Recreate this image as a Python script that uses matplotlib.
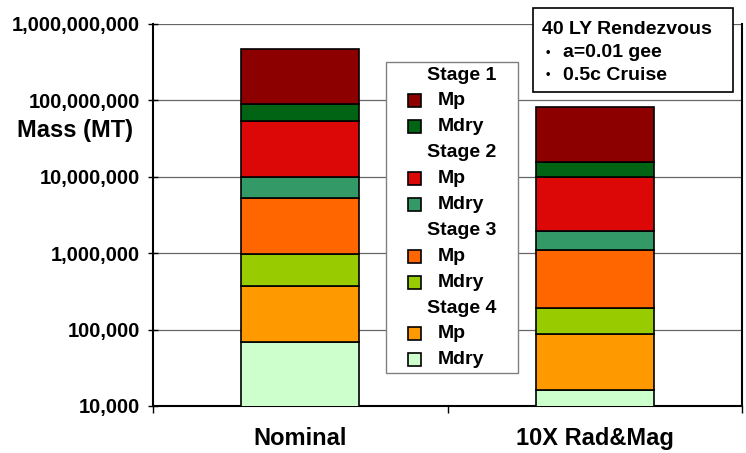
import numpy as np
import matplotlib
matplotlib.use('Agg')
import matplotlib.pyplot as plt
from matplotlib.patches import Rectangle
from matplotlib.ticker import FixedLocator, NullLocator, FuncFormatter

plt.rcParams['font.family'] = ['Liberation Sans', 'DejaVu Sans']
plt.rcParams['font.weight'] = 'bold'

categories = ['Nominal', '10X Rad&Mag']

# stage masses in metric tons, one value per case
stage1_mp = [3.82e8, 6.57e7]
stage1_mdry = [3.76e7, 5.81e6]
stage2_mp = [4.34e7, 7.90e6]
stage2_mdry = [4.50e6, 8.07e5]
stage3_mp = [4.35e6, 9.23e5]
stage3_mdry = [6.00e5, 1.06e5]
stage4_mp = [3.04e5, 7.16e4]
stage4_mdry = [6.96e4, 1.62e4]

stage_names = ['Stage 1', 'Stage 2', 'Stage 3', 'Stage 4']
part_names = ['Mp', 'Mdry']
yticks = [1e4, 1e5, 1e6, 1e7, 1e8, 1e9]
note_lines = ['40 LY Rendezvous', 'a=0.01 gee', '0.5c Cruise']

# (stage, part, values, colour), listed top of stack first
segments = [
    (0, 0, stage1_mp, '#8c0000'),
    (0, 1, stage1_mdry, '#006414'),
    (1, 0, stage2_mp, '#dc0707'),
    (1, 1, stage2_mdry, '#339966'),
    (2, 0, stage3_mp, '#ff6600'),
    (2, 1, stage3_mdry, '#99cc00'),
    (3, 0, stage4_mp, '#ff9900'),
    (3, 1, stage4_mdry, '#ccffcc'),
]

W, H = 746, 453
fig = plt.figure(figsize=(W / 100, H / 100), dpi=100)

def fx(x):
    return x / W

def fy(y):
    return 1 - y / H

ax = fig.add_axes([fx(153), fy(406), fx(742) - fx(153), fy(24) - fy(406)])

x = np.arange(len(categories))
bottom = np.zeros(len(categories))
for stage, part, vals, col in reversed(segments):
    vals = np.array(vals)
    ax.bar(x, vals, width=0.4, bottom=bottom, color=col, edgecolor='black',
           linewidth=1.2, zorder=3)
    bottom = bottom + vals

ax.set_yscale('log')
ax.set_ylim(1e4, 1e9)
ax.set_xlim(-0.5, 1.5)
ax.yaxis.set_major_locator(FixedLocator(yticks))
ax.yaxis.set_minor_locator(NullLocator())
ax.yaxis.set_major_formatter(FuncFormatter(lambda v, p: '{:,.0f}'.format(v)))
ax.grid(axis='y', color='#666666', linewidth=0.9, zorder=0)
ax.tick_params(axis='y', direction='inout', length=7, width=1, pad=6,
               labelsize=14.5)

ax.set_xticks(x)
ax.set_xticklabels(categories)
ax.set_xticks([-0.5, 0.5, 1.5], minor=True)
ax.tick_params(axis='x', which='major', length=0, pad=15, labelsize=17)
ax.tick_params(axis='x', which='minor', direction='out', length=5, width=1)

for s in ['left', 'bottom', 'right']:
    ax.spines[s].set_linewidth(1.5)
    ax.spines[s].set_color('black')
ax.spines['top'].set_visible(False)

fig.text(fx(75), fy(130), 'Mass (MT)', fontsize=17, ha='center', va='center')

# legend panel
fig.patches.append(Rectangle((fx(386), fy(373)), fx(518) - fx(386), fy(62) - fy(373),
                             transform=fig.transFigure, facecolor='white',
                             edgecolor='#808080', linewidth=1.0, zorder=5))
row_y = 75
for stage in range(len(stage_names)):
    fig.text(fx(427), fy(row_y), stage_names[stage], fontsize=14,
             va='center', ha='left', zorder=6)
    row_y += 25.9
    for st, part, vals, col in segments:
        if st != stage:
            continue
        fig.patches.append(Rectangle((fx(408), fy(row_y + 6.5)), fx(13), 13 / H,
                                     transform=fig.transFigure, facecolor=col,
                                     edgecolor='black', linewidth=1.2, zorder=6))
        fig.text(fx(438), fy(row_y), part_names[part], fontsize=14,
                 va='center', ha='left', zorder=6)
        row_y += 25.9

# case description box
fig.patches.append(Rectangle((fx(533), fy(92)), fx(733) - fx(533), fy(8) - fy(92),
                             transform=fig.transFigure, facecolor='white',
                             edgecolor='black', linewidth=1.2, zorder=5))
fig.text(fx(542), fy(30), note_lines[0], fontsize=14, va='center', ha='left', zorder=6)
for i, line in enumerate(note_lines[1:]):
    yy = 52.7 + i * 22.5
    fig.text(fx(548), fy(yy), '\u2022', fontsize=9, va='center', ha='center', zorder=6)
    fig.text(fx(563), fy(yy), line, fontsize=14, va='center', ha='left', zorder=6)

fig.savefig('out.png', dpi=100)
